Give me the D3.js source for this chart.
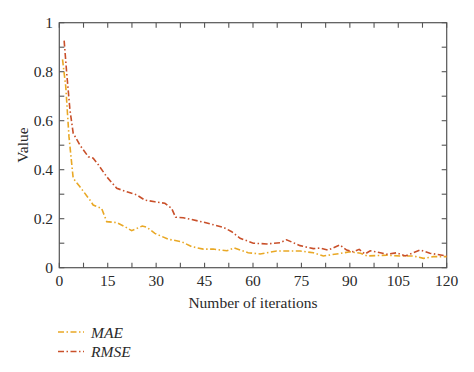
<!DOCTYPE html>
<html><head><meta charset="utf-8">
<script src="https://cdn.jsdelivr.net/npm/d3@7"></script>
<style>body{margin:0;background:#fff;}svg{display:block;}text{font-family:"Liberation Serif","DejaVu Serif",serif;fill:#2a2a2a;}</style>
</head><body><svg id="c" width="474" height="372"></svg>
<script>
const maeX = [1, 2, 3, 4.3, 6.4, 9.5, 10.5, 13.1, 14.7, 17.8, 20.4, 22.4, 25.7, 27.1, 29.6, 33.8, 37.9, 41, 44.6, 47.7, 51.9, 54.2, 58.5, 62.2, 67.3, 74.6, 78.7, 81.8, 85.9, 90.1, 93.3, 95.4, 101.4, 105.5, 109.7, 112.8, 115.9, 120];
const maeY = [0.85, 0.74, 0.535, 0.365, 0.33, 0.276, 0.256, 0.242, 0.188, 0.184, 0.167, 0.151, 0.170, 0.165, 0.14, 0.116, 0.106, 0.086, 0.076, 0.076, 0.069, 0.081, 0.061, 0.056, 0.068, 0.068, 0.061, 0.048, 0.056, 0.065, 0.059, 0.048, 0.051, 0.048, 0.048, 0.038, 0.045, 0.045];
const rmseX = [1.5, 2.3, 3.3, 4.3, 6.4, 9, 10.5, 12.1, 14.7, 17.8, 20.9, 24, 26.5, 29.6, 32.7, 34.8, 36, 38.4, 44.6, 50.8, 53.4, 56, 60.1, 64.3, 68.4, 70.4, 74.6, 78.7, 80.8, 83.3, 86.9, 89, 91, 92.9, 94.7, 96.3, 99.4, 101.4, 104.5, 107.1, 111.8, 114.8, 120];
const rmseY = [0.927, 0.793, 0.644, 0.549, 0.50, 0.453, 0.447, 0.42, 0.371, 0.324, 0.31, 0.297, 0.276, 0.269, 0.263, 0.242, 0.206, 0.204, 0.186, 0.165, 0.147, 0.12, 0.1, 0.097, 0.102, 0.114, 0.09, 0.078, 0.08, 0.072, 0.093, 0.072, 0.065, 0.075, 0.056, 0.069, 0.061, 0.055, 0.061, 0.048, 0.072, 0.059, 0.048];
const xTicks = [0, 15, 30, 45, 60, 75, 90, 105, 120];
const yTicks = [0, 0.2, 0.4, 0.6, 0.8, 1];
const seriesNames = ["MAE", "RMSE"];

const svg = d3.select("#c");
const L = 59.3, R = 446.7, T = 22.7, B = 267.7;
const x = d3.scaleLinear().domain([0, 120]).range([L, R]);
const y = d3.scaleLinear().domain([0, 1]).range([B, T]);
const axisCol = "#555";
const minorX = d3.range(0, 120.01, 7.5);
const minorY = d3.range(0, 1.001, 0.1);
const fs = 15.5;

svg.append("rect").attr("x", L).attr("y", T).attr("width", R - L).attr("height", B - T)
  .attr("fill", "none").attr("stroke", axisCol).attr("stroke-width", 1.2);

const tl = 5;
const g = svg.append("g").attr("stroke", axisCol).attr("stroke-width", 1.1);
minorX.forEach(v => {
  g.append("line").attr("x1", x(v)).attr("x2", x(v)).attr("y1", B).attr("y2", B - tl);
  g.append("line").attr("x1", x(v)).attr("x2", x(v)).attr("y1", T).attr("y2", T + tl);
});
minorY.forEach(v => {
  g.append("line").attr("x1", L).attr("x2", L + tl).attr("y1", y(v)).attr("y2", y(v));
  g.append("line").attr("x1", R).attr("x2", R - tl).attr("y1", y(v)).attr("y2", y(v));
});

svg.append("g").selectAll("text").data(xTicks).join("text")
  .attr("x", d => x(d)).attr("y", 285.5).attr("text-anchor", "middle").attr("font-size", fs)
  .text(d => d);
svg.append("g").selectAll("text").data(yTicks).join("text")
  .attr("x", 53).attr("y", d => y(d) + 5).attr("text-anchor", "end").attr("font-size", fs)
  .text(d => d3.format("")(d));

svg.append("text").attr("x", 253).attr("y", 307.5).attr("text-anchor", "middle").attr("font-size", fs)
  .text("Number of iterations");
svg.append("text").attr("transform", "translate(28,145) rotate(-90)").attr("text-anchor", "middle")
  .attr("font-size", fs).text("Value");

const colors = ["#e9a825", "#c9502a"];
const dash = "6,2.5,1.5,2.5";
const line = d3.line().x(d => x(d[0])).y(d => y(d[1]));
const data = [d3.zip(maeX, maeY), d3.zip(rmseX, rmseY)];
data.forEach((d, i) => {
  svg.append("path").datum(d).attr("d", line).attr("fill", "none")
    .attr("stroke", colors[i]).attr("stroke-width", 1.6).attr("stroke-dasharray", dash);
});

seriesNames.forEach((n, i) => {
  const ly = 332 + i * 19.5;
  svg.append("line").attr("x1", 58).attr("x2", 84).attr("y1", ly).attr("y2", ly)
    .attr("stroke", colors[i]).attr("stroke-width", 1.6).attr("stroke-dasharray", dash);
  svg.append("text").attr("x", 91).attr("y", ly + 5.5).attr("font-size", fs).attr("font-style", "italic").text(n);
});
</script></body></html>
